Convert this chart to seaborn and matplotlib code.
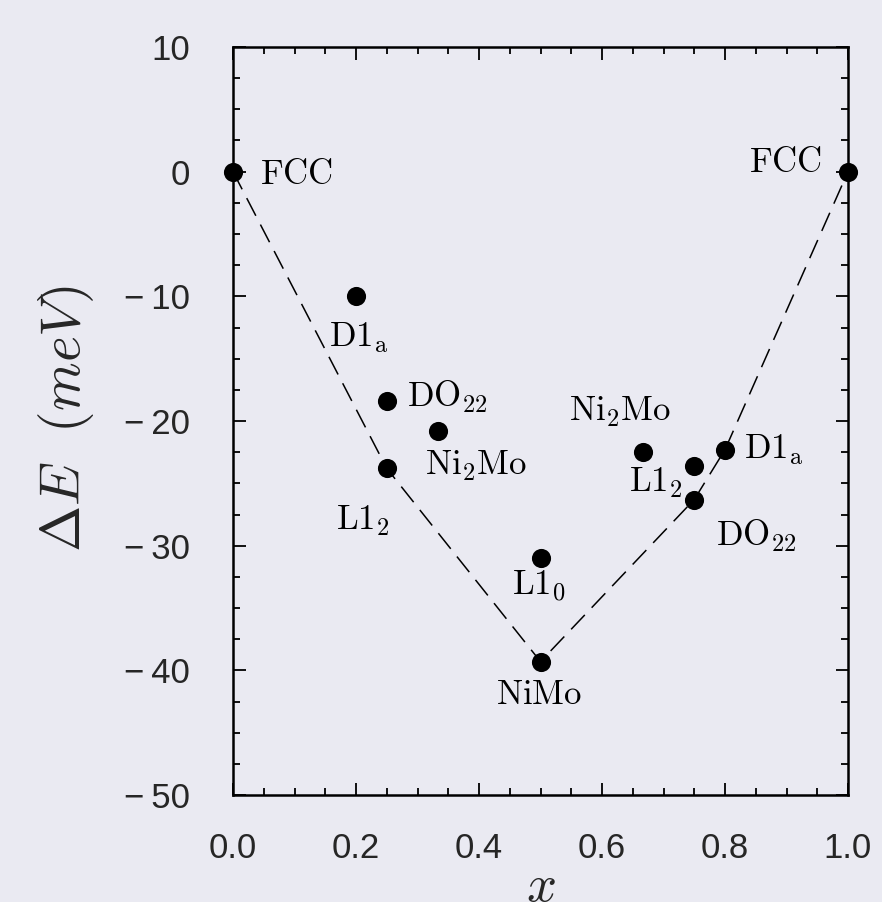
import matplotlib
matplotlib.use("Agg")
import matplotlib.pyplot as plt
import seaborn as sns
import pandas as pd
from matplotlib.ticker import MultipleLocator

# ---- data ----
structures = ["FCC", "D1a", "DO22", "Ni2Mo", "L12", "L10", "NiMo",
              "Ni2Mo", "L12", "DO22", "D1a", "FCC"]
label_texts = [r"$\mathrm{FCC}$", r"$\mathrm{D1_a}$", r"$\mathrm{DO_{22}}$",
               r"$\mathrm{Ni_2Mo}$", r"$\mathrm{L1_2}$", r"$\mathrm{L1_0}$",
               r"$\mathrm{NiMo}$", r"$\mathrm{Ni_2Mo}$", r"$\mathrm{L1_2}$",
               r"$\mathrm{DO_{22}}$", r"$\mathrm{D1_a}$", r"$\mathrm{FCC}$"]
x_vals = [0.0, 0.2, 0.25, 1/3, 0.25, 0.5, 0.5, 2/3, 0.75, 0.75, 0.8, 1.0]
dE_vals = [0.0, -10.0, -18.4, -20.8, -23.8, -31.0, -39.3,
           -22.5, -23.6, -26.3, -22.3, 0.0]
hull_x = [0.0, 0.25, 0.5, 0.75, 0.8, 1.0]
hull_dE = [0.0, -23.8, -39.3, -26.3, -22.3, 0.0]
x_ticks = [0.0, 0.2, 0.4, 0.6, 0.8, 1.0]
y_ticks = [10, 0, -10, -20, -30, -40, -50]

# label placement (pixel offsets from the point, ha)
label_offsets = [(27, -12, "left"), (-27, -51, "left"), (20, -6, "left"),
                 (-13, -44, "left"), (-51, -62, "left"), (-28, -37, "left"),
                 (-44, -42, "left"), (-74, 31, "left"), (-65, -26, "left"),
                 (22, -46, "left"), (19, -9, "left"), (-26, 0, "right")]

bg = "#EAEAF2"
sns.set_theme(style="dark")
plt.rcParams.update({
    "figure.facecolor": bg,
    "axes.facecolor": bg,
    "axes.edgecolor": "black",
    "axes.linewidth": 1.8,
    "mathtext.fontset": "cm",
    "xtick.direction": "in",
    "ytick.direction": "in",
})
plt.rcParams["font.family"] = ["Liberation Sans", "DejaVu Sans"]

df = pd.DataFrame({"x": x_vals, "dE": dE_vals, "structure": structures})
hull = pd.DataFrame({"x": hull_x, "dE": hull_dE})

fig = plt.figure(figsize=(8.82, 9.02), dpi=100)
ax = fig.add_axes([233/882, 1 - 795/902, 615/882, 748/902])

sns.lineplot(data=hull, x="x", y="dE", ax=ax, color="black", lw=1.1,
             linestyle=(0, (13, 6.5)), sort=False, zorder=2)
sns.scatterplot(data=df, x="x", y="dE", ax=ax, color="black", s=190,
                edgecolor="black", linewidth=0, zorder=3, clip_on=False)

for xv, yv, txt, (dx, dy, ha) in zip(x_vals, dE_vals, label_texts, label_offsets):
    ax.annotate(txt, (xv, yv), xytext=(dx, dy), textcoords="offset pixels",
                ha=ha, va="baseline", fontsize=25, color="black")

ax.set_xlim(0, 1)
ax.set_ylim(-50, 10)
ax.set_xticks(x_ticks)
ax.set_yticks(y_ticks)
ax.set_xticklabels([f"{t:.1f}" for t in x_ticks])
ax.set_yticklabels([f"{t}".replace("-", "\u2212\u2009") for t in y_ticks])
ax.xaxis.set_minor_locator(MultipleLocator(0.05))
ax.yaxis.set_minor_locator(MultipleLocator(2.5))
ax.tick_params(which="both", top=True, right=True, bottom=True, left=True,
               direction="in", color="black", width=1.3)
ax.tick_params(which="major", length=9, labelsize=25)
ax.tick_params(axis="y", which="major", pad=31)
ax.tick_params(axis="x", which="major", pad=27)
ax.tick_params(which="minor", length=5)
ax.grid(False)

ax.set_xlabel(r"$x$", fontsize=38)
ax.set_ylabel(r"$\Delta E\ \ (meV)$", fontsize=40)
ax.xaxis.label.set_va("baseline")
ax.xaxis.set_label_coords(0.5, (795 - 901) / 748)
ax.yaxis.set_label_coords(-0.222, 0.503)
for s in ax.spines.values():
    s.set_visible(True)
    s.set_color("black")
    s.set_linewidth(1.8)

fig.savefig("out.png", dpi=100, facecolor=bg)
